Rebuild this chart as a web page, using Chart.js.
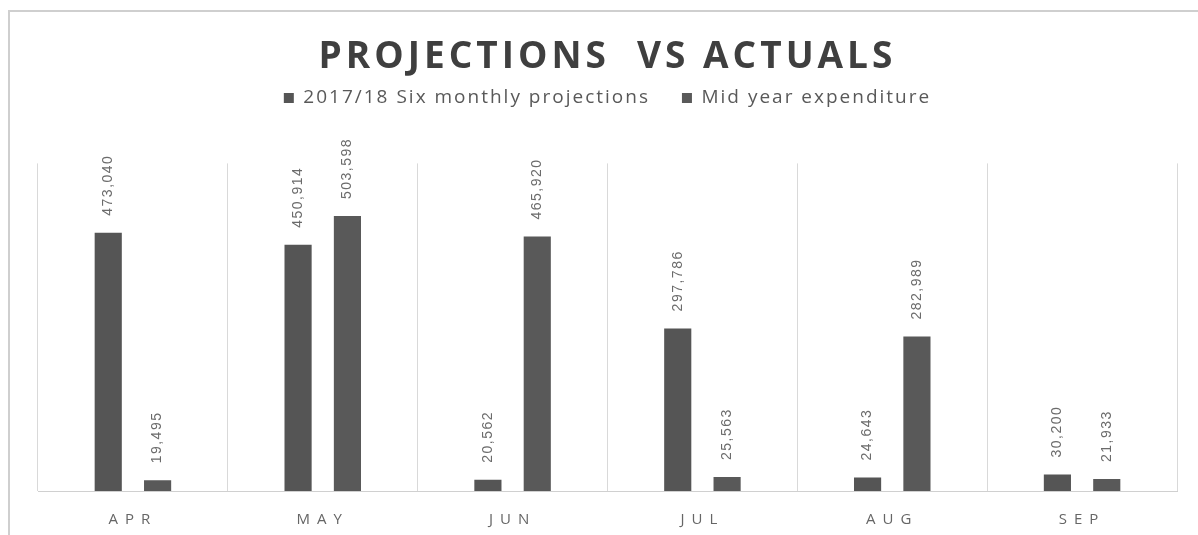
<!DOCTYPE html>
<html>
<head>
<meta charset="utf-8">
<title>Projections vs Actuals</title>
<script src="https://cdn.jsdelivr.net/npm/chart.js@4/dist/chart.umd.min.js"></script>
<style>
  html, body { margin: 0; padding: 0; background: #fff; }
  #wrap { position: relative; width: 1198px; height: 535px; }
  #frame {
    position: absolute; left: 8px; top: 10px; right: 0; bottom: 0;
    border-top: 2px solid #cfcfcf; border-left: 2px solid #cfcfcf;
    pointer-events: none;
  }
  canvas { position: absolute; left: 0; top: 0; }
</style>
</head>
<body>
<div id="wrap">
  <canvas id="chart" width="1198" height="535"></canvas>
  <div id="frame"></div>
</div>
<script>
const months = ['APR', 'MAY', 'JUN', 'JUL', 'AUG', 'SEP'];
const projections = [473040, 450914, 20562, 297786, 24643, 30200];
const expenditure = [19495, 503598, 465920, 25563, 282989, 21933];
const seriesNames = ['2017/18 Six monthly projections', 'Mid year expenditure'];

const GREY = '#595959';

// value labels, rotated, sitting just above each bar
const barLabels = {
  id: 'barLabels',
  afterDatasetsDraw(chart) {
    const ctx = chart.ctx;
    ctx.save();
    ctx.font = '14px "Liberation Sans", sans-serif';
    ctx.letterSpacing = '1.5px';
    ctx.fillStyle = '#6b6b6b';
    ctx.textAlign = 'left';
    ctx.textBaseline = 'middle';
    chart.data.datasets.forEach((ds, i) => {
      chart.getDatasetMeta(i).data.forEach((bar, j) => {
        ctx.save();
        ctx.translate(bar.x, bar.y - 17);
        ctx.rotate(-Math.PI / 2);
        ctx.fillText(ds.data[j].toLocaleString('en-US'), 0, 0);
        ctx.restore();
      });
    });
    ctx.restore();
  }
};

// wraps a draw method so its text is drawn with extra letter spacing
function spaced(obj, method, ctx, px) {
  const orig = obj[method];
  obj[method] = function () {
    ctx.save();
    ctx.letterSpacing = px;
    orig.apply(this, arguments);
    ctx.restore();
  };
}

// extra room under the legend, and spaced lettering for title, legend and months
const spacing = {
  id: 'spacing',
  afterInit(chart) {
    const legend = chart.legend;
    const fit = legend.fit;
    legend.fit = function () {
      chart.ctx.save();
      chart.ctx.letterSpacing = '2px';
      fit.call(this);
      chart.ctx.restore();
      this.height += 46;
    };
    spaced(legend, 'draw', chart.ctx, '2px');
    spaced(chart.titleBlock, 'draw', chart.ctx, '4px');
  },
  afterUpdate(chart) {
    const x = chart.scales.x;
    if (x._spaced) return;
    x._spaced = true;
    spaced(x, 'drawLabels', chart.ctx, '7px');
  }
};

new Chart(document.getElementById('chart'), {
  type: 'bar',
  data: {
    labels: months,
    datasets: [
      { label: seriesNames[0], data: projections, backgroundColor: '#555555' },
      { label: seriesNames[1], data: expenditure, backgroundColor: GREY }
    ]
  },
  options: {
    responsive: false,
    animation: false,
    devicePixelRatio: 1,
    layout: { padding: { left: 38, right: 21, top: 0, bottom: 0 } },
    datasets: { bar: { categoryPercentage: 0.52, barPercentage: 0.55 } },
    scales: {
      x: {
        grid: { display: true, offset: true, color: '#d9d9d9', drawTicks: false },
        border: { display: true, color: '#d0d0d0' },
        ticks: {
          padding: 20,
          color: '#666666',
          font: { family: '"Open Sans", sans-serif', size: 15 }
        },
        afterFit(scale) { scale.height = 44; }
      },
      y: {
        display: false,
        min: 0,
        max: 600000
      }
    },
    plugins: {
      title: {
        display: true,
        text: 'PROJECTIONS  VS ACTUALS',
        color: '#3f3f3f',
        padding: { top: 35, bottom: -23 },
        font: { family: '"Open Sans", sans-serif', size: 37, weight: 'bold' }
      },
      legend: {
        display: true,
        position: 'top',
        labels: {
          color: '#595959',
          boxWidth: 10,
          boxHeight: 10,
          padding: 32,
          font: { family: '"Open Sans", sans-serif', size: 19 }
        }
      },
      tooltip: { enabled: false }
    }
  },
  plugins: [barLabels, spacing]
});
</script>
</body>
</html>
